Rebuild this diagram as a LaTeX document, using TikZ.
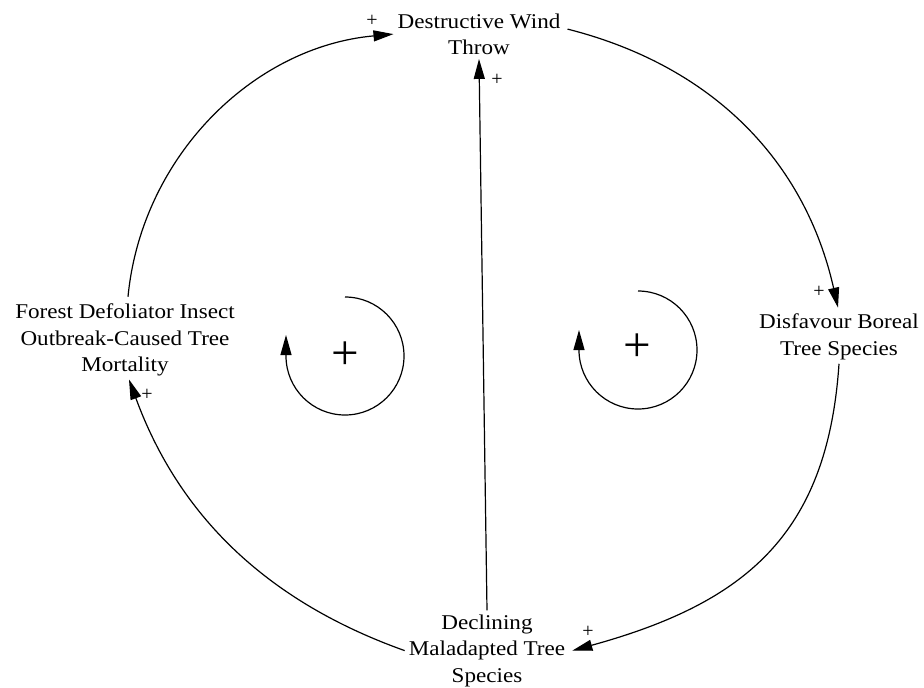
\documentclass[tikz,border=0pt]{standalone}
\usepackage{fontspec}
\setmainfont{Liberation Serif}[FakeStretch=1.10]
\newfontfamily\plainserif{Liberation Serif}
\usetikzlibrary{arrows.meta,calc}
\begin{document}
\begin{tikzpicture}[x=1pt,y=-1pt,
  txt/.style={align=center,inner sep=4pt,font=\fontsize{21}{26.5}\selectfont},
  pol/.style={inner sep=0pt,font=\plainserif\fontsize{20}{20}\selectfont},
  looplbl/.style={inner sep=0pt,font=\plainserif\fontsize{49}{49}\selectfont},
  link/.style={line width=1.2pt,-{Triangle[length=20pt,width=11pt]}},
  loopar/.style={line width=1.2pt,-{Triangle[length=20pt,width=11pt]}}]
\useasboundingbox[fill=white] (0,0) rectangle (924,688);
% variables
\node[txt] (dw) at (479,34.1) {Destructive Wind\\Throw};
\node[txt] (dis) at (839,336.7) {Disfavour Boreal\\Tree Species};
\node[txt] (decl) at (487,650.6) {Declining\\Maladapted Tree\\Species};
\node[txt] (forest) at (125,340.1) {Forest Defoliator Insect\\Outbreak-Caused Tree\\Mortality};
% causal links
\draw[link] ($(forest.north)+(3,-3)$) .. controls (141.5,156.9) and (252.8,46.8) .. (dw.west);
\draw[link] ($(dw.east)+(3,-5)$) .. controls (712.4,65.8) and (804.9,160.7) .. ($(dis.north)+(-1,-2)$);
\draw[link] (dis.south) .. controls (827.5,535) and (745,603) .. ($(decl.east)+(3,0)$);
\draw[link] (decl.west) .. controls (265.2,600.8) and (178.6,514.6) .. ($(forest.south)+(4,-1)$);
\draw[link] (decl.north) -- (dw.south);
% polarities
\node[pol] (p1) at (372,21) {+};
\node[pol] (p2) at (819,292) {+};
\node[pol] (p3) at (588,632) {+};
\node[pol] (p4) at (147,395) {+};
\node[pol] (p5) at (497,80) {+};
% loop markers
\coordinate (la) at (345,297);
\coordinate (ra) at (638,291);
\draw[loopar] (la) arc[start angle=90,end angle=-180,radius=59pt] -- ++(0,-21);
\draw[loopar] (ra) arc[start angle=90,end angle=-180,radius=59pt] -- ++(0,-20);
\node[looplbl] (l1) at (345,356) {+};
\node[looplbl] (l2) at (637,348) {+};
\end{tikzpicture}
\end{document}
